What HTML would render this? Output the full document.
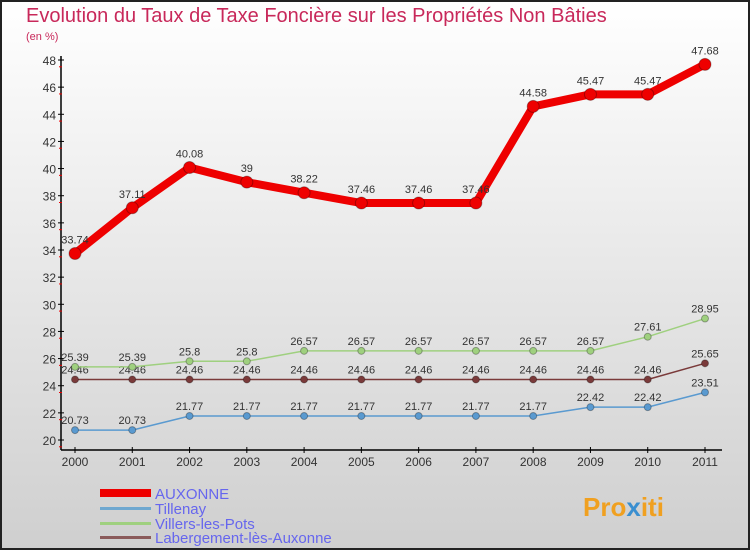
<!DOCTYPE html>
<html><head><meta charset="utf-8"><style>
body{margin:0;width:750px;height:550px;overflow:hidden;font-family:"Liberation Sans",sans-serif}
svg text{font-family:"Liberation Sans",sans-serif}
</style></head><body>
<svg id="c" width="750" height="550" xmlns="http://www.w3.org/2000/svg">
<defs><linearGradient id="bg" x1="0" y1="0" x2="0" y2="1"><stop offset="0" stop-color="#ffffff"/><stop offset="1" stop-color="#cfcfcf"/></linearGradient></defs>
<rect x="1" y="1" width="748" height="548" fill="url(#bg)" stroke="#222" stroke-width="2"/>
<text x="26" y="22" font-size="20" fill="#c8285a">Evolution du Taux de Taxe Foncière sur les Propriétés Non Bâties</text>
<text x="26" y="40" font-size="11" fill="#c8285a">(en %)</text>
<g id="axes"></g><g id="series"></g>
<g>
<rect x="100" y="489" width="51" height="8" fill="#e00"/>
<text x="155" y="499" font-size="15" fill="#6666ee">AUXONNE</text>
<rect x="100" y="507" width="51" height="3" fill="#6fa8d0"/>
<text x="155" y="514" font-size="15" fill="#6666ee">Tillenay</text>
<rect x="100" y="522" width="51" height="3" fill="#9fd07f"/>
<text x="155" y="529" font-size="15" fill="#6666ee">Villers-les-Pots</text>
<rect x="100" y="536" width="51" height="3" fill="#8a5a5a"/>
<text x="155" y="543" font-size="15" fill="#6666ee">Labergement-lès-Auxonne</text>
</g>
<text x="583" y="516" font-size="26" font-weight="bold" fill="#f0a020">Pro<tspan fill="#3a8fd0">x</tspan>iti</text>
</svg>
<script>
const years=["2000","2001","2002","2003","2004","2005","2006","2007","2008","2009","2010","2011"];
const yTicks=[20,22,24,26,28,30,32,34,36,38,40,42,44,46,48];
const auxonne=[33.74,37.11,40.08,39,38.22,37.46,37.46,37.46,44.58,45.47,45.47,47.68];
const tillenay=[20.73,20.73,21.77,21.77,21.77,21.77,21.77,21.77,21.77,22.42,22.42,23.51];
const villers=[25.39,25.39,25.8,25.8,26.57,26.57,26.57,26.57,26.57,26.57,27.61,28.95];
const labergement=[24.46,24.46,24.46,24.46,24.46,24.46,24.46,24.46,24.46,24.46,24.46,25.65];
const NS="http://www.w3.org/2000/svg";
const xs=i=>75+i*(705-75)/(years.length-1);
const ys=v=>440-(v-20)*(380/28);
function mk(t,a,p){const e=document.createElementNS(NS,t);for(const k in a)e.setAttribute(k,a[k]);p.appendChild(e);return e;}
const ax=document.getElementById('axes');
const yl=mk('line',{x1:61,y1:56,x2:61,y2:450,stroke:'#000','stroke-width':1.5},ax);


const xl=mk('line',{x1:61,y1:450,x2:722,y2:450,stroke:'#000','stroke-width':1.5},ax);


yTicks.forEach(v=>{const y=ys(v);
 mk('line',{x1:58,y1:y,x2:64,y2:y,stroke:'#000'},ax);
 mk('line',{x1:59,y1:y+13.57/2*0+6.8,x2:62,y2:y+6.8,stroke:'#e00'},ax);
 const t=mk('text',{x:56,y:y+5,'font-size':12,'text-anchor':'end',fill:'#333'},ax);t.textContent=v;
 
 });
years.forEach((yr,i)=>{const x=xs(i);
 mk('line',{x1:x,y1:447,x2:x,y2:453,stroke:'#000'},ax);
 const t=mk('text',{x:x,y:466,'font-size':12,'text-anchor':'middle',fill:'#333'},ax);t.textContent=yr;
 
 });
const sg=document.getElementById('series');
function draw(name,data,color,w,r,labOff){
 const g=mk('g',{},sg);
 
 
 const pts=data.map((v,i)=>xs(i)+','+ys(v)).join(' ');
 mk('polyline',{points:pts,fill:'none',stroke:color,'stroke-width':w,'stroke-linejoin':'round'},g);
 data.forEach((v,i)=>{const c=mk('circle',{cx:xs(i),cy:ys(v),r:r,fill:color,stroke:'rgba(0,0,0,0.3)'},g);
  
  
  const t=mk('text',{x:xs(i),y:ys(v)-labOff,'font-size':11,'text-anchor':'middle',fill:'#333'},g);t.textContent=v;
  
  });
}
draw('labergement',labergement,'#7a3a3a',1.5,3.5,6);
draw('tillenay',tillenay,'#5a9ad0',1.5,3.5,6);
draw('villers',villers,'#9fd07f',1.5,3.5,6);
draw('auxonne',auxonne,'#ee0000',8,6,10);
</script>
</body></html>
